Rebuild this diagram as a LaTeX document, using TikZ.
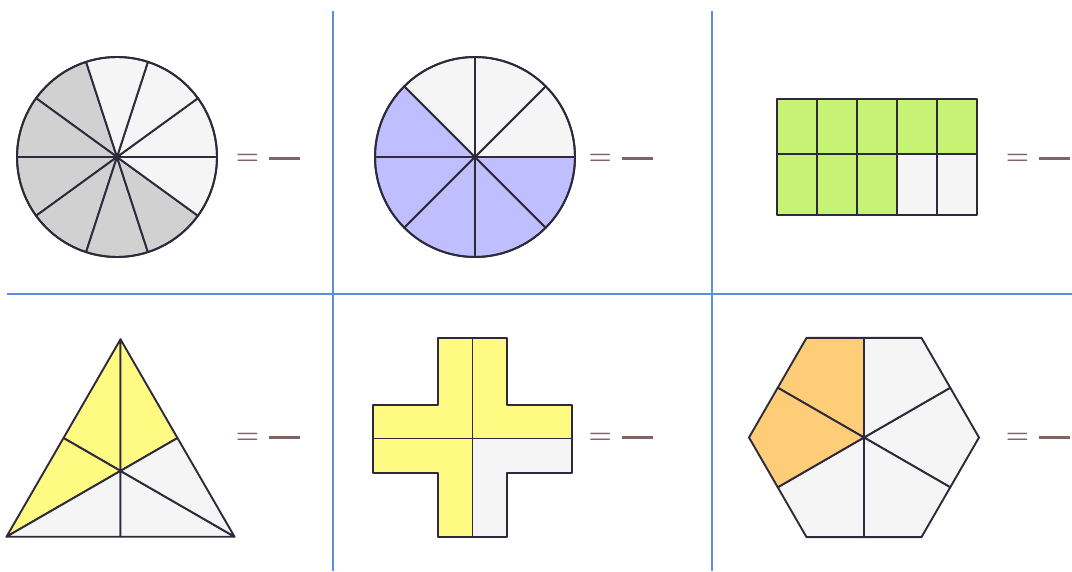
\documentclass[tikz,border=0pt]{standalone}
\usetikzlibrary{calc}
\definecolor{ink}{HTML}{2F2A3B}
\definecolor{paper}{HTML}{F5F5F5}
\definecolor{greyfill}{HTML}{D1D1D1}
\definecolor{bluefill}{HTML}{BFBFFF}
\definecolor{greenfill}{HTML}{C6F373}
\definecolor{yellowfill}{HTML}{FFFA82}
\definecolor{orangefill}{HTML}{FFCD78}
\definecolor{gridblue}{HTML}{5E8EDB}
\definecolor{eqbrown}{HTML}{806464}
\tikzset{
  piece/.style={draw=ink, line width=1.9pt, line join=round},
  gridline/.style={draw=gridblue, line width=1.2pt},
  eqsign/.style={text=eqbrown, font=\fontsize{26.6}{32}\selectfont\bfseries, inner sep=0pt, anchor=base},
  fracbar/.style={draw=eqbrown, line width=3pt},
}
\begin{document}
\begin{tikzpicture}[x=1pt,y=1pt]
\useasboundingbox (0,0) rectangle (1072,571);
% grid
\draw[gridline] (333,0) -- (333,559.7);
\draw[gridline] (712,0) -- (712,559.7);
\draw[gridline] (7.3,277) -- (1072,277);

% circle 1: 10 parts, 6 shaded
\coordinate (c1) at (117,414);
\foreach \a in {108,144,...,288}
  \filldraw[piece, fill=greyfill] (c1) -- ++(\a:100) arc[start angle=\a, end angle=\a+36, radius=100] -- cycle;
\foreach \a in {324,0,36,72}
  \filldraw[piece, fill=paper] (c1) -- ++(\a:100) arc[start angle=\a, end angle=\a+36, radius=100] -- cycle;
\draw[piece] (c1) circle[radius=100];
\fill[ink] (c1) circle[radius=2.2];

% circle 2: 8 parts, 5 shaded
\coordinate (c2) at (475,414);
\foreach \a in {135,180,...,315}
  \filldraw[piece, fill=bluefill] (c2) -- ++(\a:100) arc[start angle=\a, end angle=\a+45, radius=100] -- cycle;
\foreach \a in {0,45,90}
  \filldraw[piece, fill=paper] (c2) -- ++(\a:100) arc[start angle=\a, end angle=\a+45, radius=100] -- cycle;
\draw[piece] (c2) circle[radius=100];
\fill[ink] (c2) circle[radius=2.2];

% rectangle: 10 parts, 8 shaded
\foreach \i in {0,...,4}
  \filldraw[piece, fill=greenfill] ({777+40*\i},417) rectangle ++(40,54.7);
\foreach \i in {0,1,2}
  \filldraw[piece, fill=greenfill] ({777+40*\i},356.3) rectangle ++(40,60.7);
\foreach \i in {3,4}
  \filldraw[piece, fill=paper] ({777+40*\i},356.3) rectangle ++(40,60.7);

% triangle: 6 parts, 3 shaded
\coordinate (tA) at (120.5,231.7);
\coordinate (tB) at (6.5,34.3);
\coordinate (tC) at (234.5,34.3);
\coordinate (tG) at (120.5,100.1);
\coordinate (mAB) at ($(tA)!0.5!(tB)$);
\coordinate (mAC) at ($(tA)!0.5!(tC)$);
\coordinate (mBC) at ($(tB)!0.5!(tC)$);
\filldraw[piece, fill=yellowfill] (tA) -- (mAB) -- (tG) -- cycle;
\filldraw[piece, fill=yellowfill] (tA) -- (tG) -- (mAC) -- cycle;
\filldraw[piece, fill=yellowfill] (tB) -- (tG) -- (mAB) -- cycle;
\filldraw[piece, fill=paper] (tB) -- (mBC) -- (tG) -- cycle;
\filldraw[piece, fill=paper] (tC) -- (tG) -- (mBC) -- cycle;
\filldraw[piece, fill=paper] (tC) -- (mAC) -- (tG) -- cycle;

% cross: 4 parts, 3 shaded
\filldraw[piece, fill=yellowfill] (438.3,232.7) -- (472.5,232.7) -- (472.5,132.5) -- (372.7,132.5) -- (372.7,166) -- (438.3,166) -- cycle;
\filldraw[piece, fill=yellowfill] (472.5,232.7) -- (506.7,232.7) -- (506.7,166) -- (572.3,166) -- (572.3,132.5) -- (472.5,132.5) -- cycle;
\filldraw[piece, fill=yellowfill] (372.7,132.5) -- (472.5,132.5) -- (472.5,33.7) -- (438.3,33.7) -- (438.3,98) -- (372.7,98) -- cycle;
\filldraw[piece, fill=paper] (472.5,132.5) -- (572.3,132.5) -- (572.3,98) -- (506.7,98) -- (506.7,33.7) -- (472.5,33.7) -- cycle;

% hexagon: 6 parts, 2 shaded
\coordinate (hc) at (864,133.5);
\foreach \v in {0,60,240,300}
  \filldraw[piece, fill=paper] (hc) -- ($(hc)+(\v-30:99.59)$) -- ($(hc)+(\v:115)$) -- ($(hc)+(\v+30:99.59)$) -- cycle;
\foreach \v in {120,180}
  \filldraw[piece, fill=orangefill] (hc) -- ($(hc)+(\v-30:99.59)$) -- ($(hc)+(\v:115)$) -- ($(hc)+(\v+30:99.59)$) -- cycle;
\fill[ink] (hc) circle[radius=2.2];

% equals signs and fraction bars
\node[eqsign] (eqA) at (247.5,406.1) {=};
\node[eqsign] (eqB) at (600.3,406.1) {=};
\node[eqsign] (eqC) at (1017.5,406.1) {=};
\node[eqsign] (eqD) at (247.5,127.1) {=};
\node[eqsign] (eqE) at (600.3,127.1) {=};
\node[eqsign] (eqF) at (1017.5,127.1) {=};
\draw[fracbar] (269,412.7) -- (300,412.7);
\draw[fracbar] (622,412.7) -- (653,412.7);
\draw[fracbar] (1039,412.7) -- (1070,412.7);
\draw[fracbar] (269,133.7) -- (300,133.7);
\draw[fracbar] (622,133.7) -- (653,133.7);
\draw[fracbar] (1039,133.7) -- (1070,133.7);
\end{tikzpicture}
\end{document}
